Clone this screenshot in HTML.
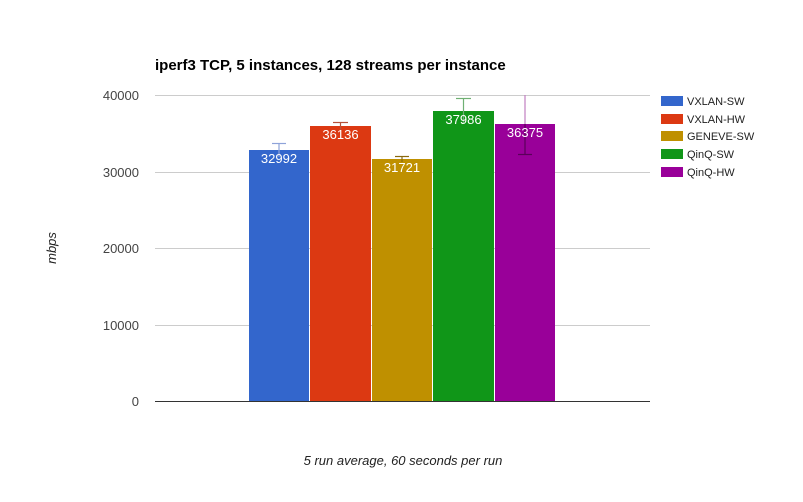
<!DOCTYPE html>
<html><head><meta charset="utf-8"><style>html,body{margin:0;padding:0;background:#fff}</style></head>
<body>
<svg width="803" height="497" xmlns="http://www.w3.org/2000/svg" font-family="Liberation Sans, Arial, sans-serif">
<rect width="803" height="497" fill="#fff"/>
<text x="155" y="70" font-size="15" font-weight="bold" fill="#000">iperf3 TCP, 5 instances, 128 streams per instance</text>
<g stroke="#cccccc" stroke-width="1">
<line x1="155" y1="95.5" x2="650" y2="95.5"/>
<line x1="155" y1="172.5" x2="650" y2="172.5"/>
<line x1="155" y1="248.5" x2="650" y2="248.5"/>
<line x1="155" y1="325.5" x2="650" y2="325.5"/>
</g>
<g font-size="13" fill="#444" text-anchor="end">
<text x="139" y="100">40000</text>
<text x="139" y="177">30000</text>
<text x="139" y="253">20000</text>
<text x="139" y="330">10000</text>
<text x="139" y="406">0</text>
</g>
<rect x="249" y="150" width="60" height="251" fill="#3366cc"/>
<rect x="310" y="126" width="61" height="275" fill="#dc3912"/>
<rect x="372" y="159" width="60" height="242" fill="#bf9000"/>
<rect x="433" y="111" width="61" height="290" fill="#109618"/>
<rect x="495" y="124" width="60" height="277" fill="#990099"/>
<line x1="155" y1="401.5" x2="650" y2="401.5" stroke="#333" stroke-width="1"/>
<g stroke-width="1.2">
<g stroke="#8ea3d9"><line x1="279" y1="143" x2="279" y2="157"/><line x1="272" y1="143.5" x2="286" y2="143.5"/></g>
<g stroke="#b5523a"><line x1="340.5" y1="122" x2="340.5" y2="130"/><line x1="333" y1="122.5" x2="348" y2="122.5"/></g>
<g stroke="#8a6a10"><line x1="402" y1="156" x2="402" y2="162"/><line x1="395" y1="156.5" x2="409" y2="156.5"/></g>
<g stroke="#6fb073"><line x1="463.5" y1="98" x2="463.5" y2="123"/><line x1="456" y1="98.5" x2="471" y2="98.5"/></g>
<g stroke="#c27fc2"><line x1="525" y1="95" x2="525" y2="124"/></g>
<g stroke="#5a005a"><line x1="525" y1="124" x2="525" y2="154"/><line x1="518" y1="154.5" x2="532" y2="154.5"/></g>
</g>
<g font-size="13" fill="#fff" text-anchor="middle">
<text x="279" y="163">32992</text>
<text x="340.5" y="139">36136</text>
<text x="402" y="172">31721</text>
<text x="463.5" y="124">37986</text>
<text x="525" y="137">36375</text>
</g>
<g font-size="11" fill="#222">
<rect x="661" y="96" width="22" height="10" fill="#3366cc"/><text x="687" y="105">VXLAN-SW</text>
<rect x="661" y="114" width="22" height="10" fill="#dc3912"/><text x="687" y="123">VXLAN-HW</text>
<rect x="661" y="131" width="22" height="10" fill="#bf9000"/><text x="687" y="140">GENEVE-SW</text>
<rect x="661" y="149" width="22" height="10" fill="#109618"/><text x="687" y="158">QinQ-SW</text>
<rect x="661" y="167" width="22" height="10" fill="#990099"/><text x="687" y="176">QinQ-HW</text>
</g>
<text x="403" y="465" font-size="13" font-style="italic" fill="#222" text-anchor="middle">5 run average, 60 seconds per run</text>
<text transform="translate(56,248) rotate(-90)" font-size="13" font-style="italic" fill="#222" text-anchor="middle">mbps</text>
</svg>
</body></html>
